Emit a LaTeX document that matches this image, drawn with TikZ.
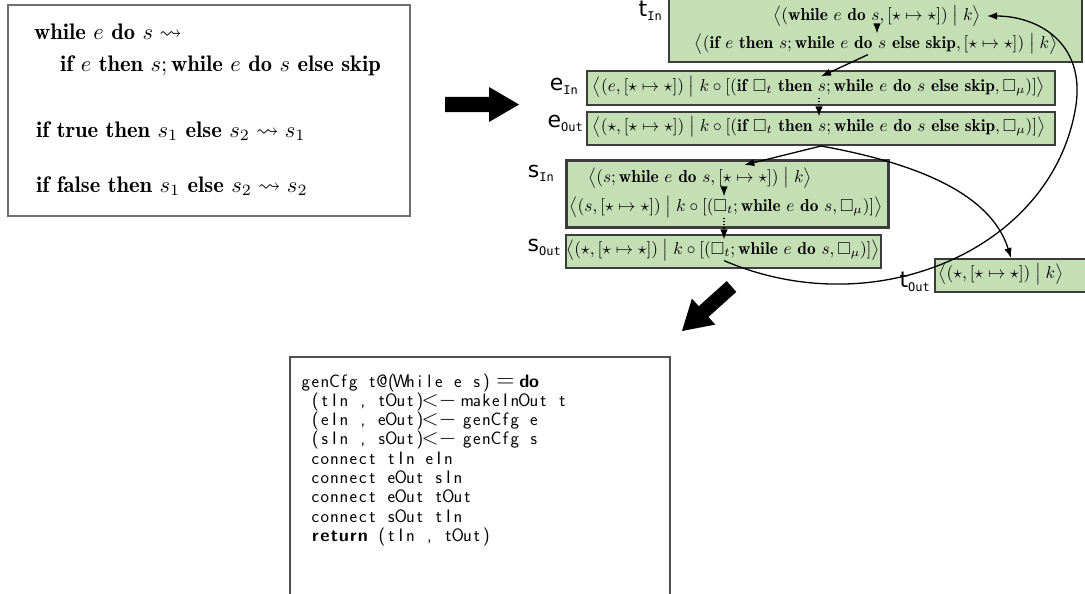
\documentclass[tikz,border=0pt]{standalone}
\usepackage{amsmath,amssymb}
\usepackage{fontspec}
\usetikzlibrary{arrows.meta}

\newfontfamily\lblfont{DejaVu Sans}
\newfontfamily\lblmono{DejaVu Sans Mono}

\definecolor{cfggreen}{RGB}{197,223,181}
\definecolor{cfgedge}{RGB}{60,60,60}
\definecolor{framegray}{RGB}{112,112,112}
\definecolor{codeedge}{RGB}{80,80,80}

% semantics notation
\newcommand\kw[1]{\mathbf{#1}}
\newcommand\sto{[\star\mapsto\star]}
\newcommand\conf[2]{\bigl\langle(#1,\sto)\bigm|#2\bigr\rangle}
\newcommand\ifk{\kw{if}\ \square_t\ \kw{then}\ s;\kw{while}\ e\ \kw{do}\ s\ \kw{else}\ \kw{skip}}
\newcommand\seqk{\square_t;\kw{while}\ e\ \kw{do}\ s}
\newcommand\gmath[1]{\scalebox{1.73}{$#1$}}
\newcommand\rmath[1]{\scalebox{2.25}{$#1$}}
\newcommand\cfglabel[2]{#1\raisebox{-4pt}{\lblmono\fontsize{12}{12}\selectfont#2}}

% fixed-column code lines
\newlength\colw \setlength\colw{9.5pt}
\ExplSyntaxOn
\NewDocumentCommand\codeline{m}{\tl_map_inline:nn{#1}{\makebox[\colw][c]{##1}}}
\ExplSyntaxOff
\newcommand\ceq{\scalebox{1.45}{$=$}}
\newcommand\clarr{\hbox to 2\colw{\hss\scalebox{1.3}{${<}{-}$}\hss}}

\tikzset{
  cfgbox/.style={draw=cfgedge, fill=cfggreen, line width=2pt, anchor=north west, inner sep=0pt},
  cfgtext/.style={inner sep=0pt},
  cfglbl/.style={anchor=base east, inner sep=0pt, font=\lblfont\fontsize{22}{22}\selectfont},
  ruletext/.style={anchor=base west, inner sep=0pt},
  rulebox/.style={draw=framegray, line width=2pt, anchor=north west, inner sep=0pt},
  codebox/.style={draw=codeedge, line width=1.5pt, anchor=north west, inner sep=0pt},
  codeln/.style={anchor=base west, inner sep=0pt, font=\sffamily\fontsize{18}{18}\selectfont},
  flow/.style={-{Latex[length=10pt,width=7.5pt]}, line width=1.3pt},
  flowdot/.style={flow, dotted},
}

\begin{document}
\begin{tikzpicture}[x=1pt, y=-1pt]
\useasboundingbox (0,0) rectangle (1085,594);

% reduction rules
\node[rulebox, minimum width=402, minimum height=211] (rules) at (7,4) {};
\node[ruletext] (r1) at (34,40) {\rmath{\kw{while}\ e\ \kw{do}\ s\leadsto}};
\node[ruletext] (r2) at (60,71) {\rmath{\kw{if}\ e\ \kw{then}\ s;\kw{while}\ e\ \kw{do}\ s\ \kw{else}\ \kw{skip}}};
\node[ruletext] (r3) at (36,137) {\rmath{\kw{if}\ \kw{true}\ \kw{then}\ s_1\ \kw{else}\ s_2\leadsto s_1}};
\node[ruletext] (r4) at (36,192) {\rmath{\kw{if}\ \kw{false}\ \kw{then}\ s_1\ \kw{else}\ s_2\leadsto s_2}};

% block arrows
\fill (445,97) -- (489,97) -- (489,87) -- (519,104.5) -- (489,122) -- (489,112) -- (445,112) -- cycle;
\fill (726.7,281.1) -- (736.3,291.9) -- (708.4,317.0) -- (715.3,324.6) -- (682,331)
      -- (691.9,298.6) -- (698.8,306.2) -- cycle;

% configuration boxes
\node[cfgbox, minimum width=413, minimum height=67] (tinbox) at (668,-6) {};
\node[cfgbox, minimum width=468, minimum height=34] (einbox) at (586,70) {};
\node[cfgbox, minimum width=468, minimum height=33] (eoutbox) at (586,111) {};
\node[cfgbox, minimum width=322, minimum height=67, line width=2.6pt] (sinbox) at (565,159) {};
\node[cfgbox, minimum width=315, minimum height=33] (soutbox) at (565,234) {};
\node[cfgbox, minimum width=160, minimum height=33] (toutbox) at (934,258) {};

\node[cfgtext] (tin1) at (877,16) {\gmath{\conf{\kw{while}\ e\ \kw{do}\ s}{k}}};
\node[cfgtext] (tin2) at (876,44) {\gmath{\conf{\kw{if}\ e\ \kw{then}\ s;\kw{while}\ e\ \kw{do}\ s\ \kw{else}\ \kw{skip}}{k}}};
\node[cfgtext] (ein) at (819,87) {\gmath{\conf{e}{k\circ[(\ifk,\square_\mu)]}}};
\node[cfgtext] (eout) at (819,127) {\gmath{\conf{\star}{k\circ[(\ifk,\square_\mu)]}}};
\node[cfgtext] (sin1) at (700,178) {\gmath{\conf{s;\kw{while}\ e\ \kw{do}\ s}{k}}};
\node[cfgtext] (sin2) at (726,207) {\gmath{\conf{s}{k\circ[(\seqk,\square_\mu)]}}};
\node[cfgtext] (sout) at (723,250) {\gmath{\conf{\star}{k\circ[(\seqk,\square_\mu)]}}};
\node[cfgtext] (tout) at (1001,274) {\gmath{\conf{\star}{k}}};

% entry / exit labels
\node[cfglbl] (tinl) at (662,17) {\cfglabel{t}{In}};
\node[cfglbl] (einl) at (578,91) {\cfglabel{e}{In}};
\node[cfglbl] (eoutl) at (583,128) {\cfglabel{e}{Out}};
\node[cfglbl] (sinl) at (554,177) {\cfglabel{s}{In}};
\node[cfglbl] (soutl) at (561,251) {\cfglabel{s}{Out}};
\node[cfglbl] (toutl) at (930,287) {\cfglabel{t}{Out}};

% control flow
\draw[flow] (tin1.south) -- (tin1.south |- tin2.north);
\draw[flow] ([xshift=-8pt]tin2.south) -- ([xshift=2pt]ein.north);
\draw[flowdot] (ein.south) -- (ein.south |- eout.north);
\draw[flow] (eoutbox.south) -- ([xshift=17pt,yshift=-6pt]sinbox.north);
\draw[flow] (eoutbox.south) .. controls +(111,20) and +(-18,-58) .. ([xshift=-4pt]toutbox.north);
\draw[flow] ([xshift=24pt]sin1.south) -- ([xshift=24pt]sin1.south |- sin2.north);
\draw[flowdot] ([xshift=-2pt]sin2.south) -- ([xshift=-2pt]sin2.south |- sout.north);
\draw[flow] ([xshift=1pt]sout.south) .. controls +(150,65) and +(-22,145) .. (1076,105)
      .. controls +(9,-63) and +(50,0) .. ([xshift=6pt]tin1.east);

% generator code
\node[codebox, minimum width=380, minimum height=260] (codeframe) at (289,356) {};
\node[codeln] (c1) at (301,387.0) {\codeline{genCfg~t@(While~e~s)~\ceq~{\bfseries d}{\bfseries o}}};
\node[codeln] (c2) at (301,406.3) {\codeline{~(tIn~,~tOut)~\clarr{}~makeInOut~t}};
\node[codeln] (c3) at (301,425.6) {\codeline{~(eIn~,~eOut)~\clarr{}~genCfg~e}};
\node[codeln] (c4) at (301,444.9) {\codeline{~(sIn~,~sOut)~\clarr{}~genCfg~s}};
\node[codeln] (c5) at (301,464.2) {\codeline{~connect~tIn~eIn}};
\node[codeln] (c6) at (301,483.5) {\codeline{~connect~eOut~sIn}};
\node[codeln] (c7) at (301,502.8) {\codeline{~connect~eOut~tOut}};
\node[codeln] (c8) at (301,522.1) {\codeline{~connect~sOut~tIn}};
\node[codeln] (c9) at (301,541.4) {\codeline{~{\bfseries r}{\bfseries e}{\bfseries t}{\bfseries u}{\bfseries r}{\bfseries n}~(tIn~,~tOut)}};
\end{tikzpicture}
\end{document}
